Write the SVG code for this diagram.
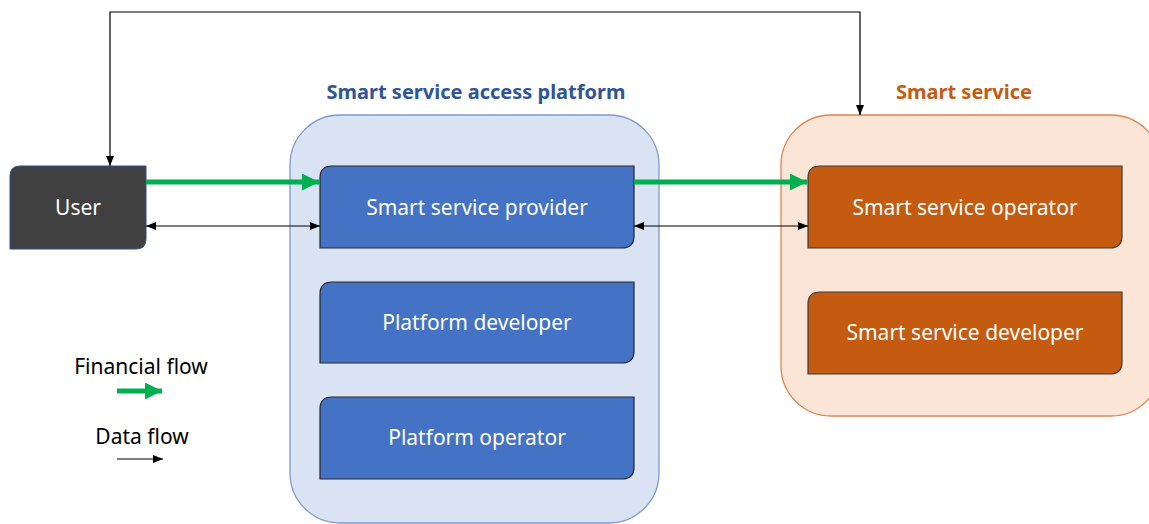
<svg xmlns="http://www.w3.org/2000/svg" width="1149" height="524" viewBox="0 0 1149 524">
<defs>
<style>
text{font-family:"Noto Sans","Open Sans","DejaVu Sans",sans-serif;font-size:21px;text-anchor:middle}
.lbl{fill:#fff}
.title{font-weight:bold;font-size:20px}
.blue{fill:#4472c4;stroke:#262626;stroke-width:1.2}
.orange{fill:#c55a11;stroke:#3a3a3a;stroke-width:1.2}
.data{stroke:#000;stroke-width:1.2;fill:none}
.fin{stroke:#00b050;stroke-width:5;fill:none}
</style>
<marker id="ah" viewBox="0 0 10 10" refX="10" refY="5" markerWidth="10" markerHeight="10" markerUnits="userSpaceOnUse" orient="auto-start-reverse"><path d="M0,1 L10,5 L0,9 z" fill="#000"/></marker>
<marker id="gh" viewBox="0 0 10 10" refX="10" refY="5" markerWidth="3.4" markerHeight="3.4" orient="auto"><path d="M0,0 L10,5 L0,10 z" fill="#00b050"/></marker>
</defs>
<g id="platform">
<rect x="290" y="115" width="369" height="408" rx="50" ry="50" fill="#dae3f3" stroke="#7f9bc9" stroke-width="1.3"/>
<text class="title" x="476" y="99" fill="#2f5597">Smart service access platform</text>
</g>
<g id="smart-service">
<rect x="781" y="115" width="380" height="301" rx="50" ry="50" fill="#fbe5d6" stroke="#e0844d" stroke-width="1.3"/>
<text class="title" x="964" y="99" fill="#c55a11">Smart service</text>
</g>
<g id="user">
<path d="M20,166 H146 V239 Q146,249 136,249 H10 V176 Q10,166 20,166 Z" fill="#404040" stroke="#2f4f8f" stroke-width="1"/>
<text class="lbl" x="78" y="215">User</text>
</g>
<g id="provider">
<path class="blue" d="M332,166 H634 V236 Q634,248 622,248 H320 V178 Q320,166 332,166 Z"/>
<text class="lbl" x="477" y="215">Smart service provider</text>
</g>
<g id="platform-developer">
<path class="blue" d="M332,282 H634 V351 Q634,363 622,363 H320 V294 Q320,282 332,282 Z"/>
<text class="lbl" x="477" y="330">Platform developer</text>
</g>
<g id="platform-operator">
<path class="blue" d="M332,397 H634 V467 Q634,479 622,479 H320 V409 Q320,397 332,397 Z"/>
<text class="lbl" x="477" y="445">Platform operator</text>
</g>
<g id="operator">
<path class="orange" d="M820,166 H1122 V236 Q1122,248 1110,248 H808 V178 Q808,166 820,166 Z"/>
<text class="lbl" x="965" y="215">Smart service operator</text>
</g>
<g id="service-developer">
<path class="orange" d="M820,292 H1122 V362 Q1122,374 1110,374 H808 V304 Q808,292 820,292 Z"/>
<text class="lbl" x="965" y="340">Smart service developer</text>
</g>
<g id="connectors">
<path class="data" d="M110,166 V12 H860 V115" marker-start="url(#ah)" marker-end="url(#ah)"/>
<path class="fin" d="M146,182 H319" marker-end="url(#gh)"/>
<path class="fin" d="M634,182 H807" marker-end="url(#gh)"/>
<path class="data" d="M146,226 H320" marker-start="url(#ah)" marker-end="url(#ah)"/>
<path class="data" d="M634,226 H808" marker-start="url(#ah)" marker-end="url(#ah)"/>
</g>
<g id="legend">
<text x="141" y="374" fill="#000">Financial flow</text>
<path class="fin" d="M117,391 H162" marker-end="url(#gh)"/>
<text x="142" y="444" fill="#000">Data flow</text>
<path class="data" d="M117,459 H163" marker-end="url(#ah)"/>
</g>
</svg>
